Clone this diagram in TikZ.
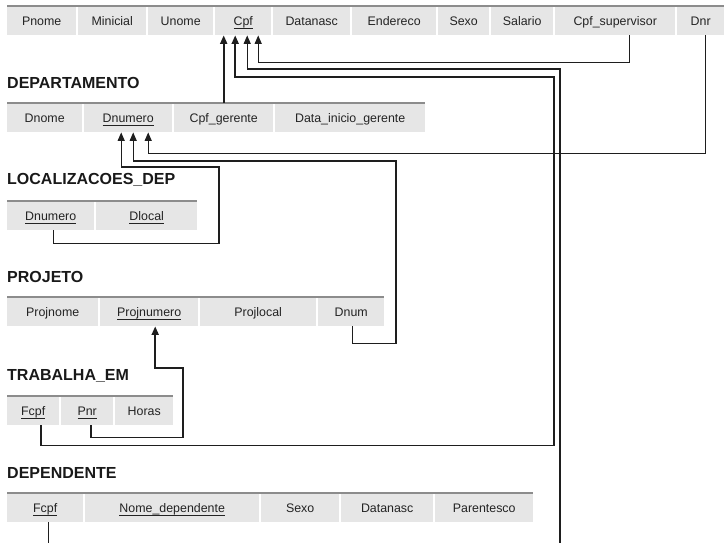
\documentclass[tikz,border=0pt]{standalone}
\usepackage{fontspec}
\setmainfont{Liberation Sans}
\usetikzlibrary{arrows.meta}
\definecolor{celula}{RGB}{230,230,230}
\definecolor{cinzatopo}{RGB}{140,140,140}
\definecolor{linha}{RGB}{30,30,30}
\definecolor{texto}{RGB}{35,35,35}
\newcommand{\chave}[1]{\sbox0{#1}\rlap{\rule[-3.2pt]{\wd0}{0.7pt}}\usebox0}

\begin{document}
\begin{tikzpicture}[x=1pt, y=-1pt,
	cel/.style={fill=celula, text=texto, inner sep=0pt, minimum height=29pt,
		text height=9pt, text depth=0pt, anchor=north west,
		font=\fontsize{12.4}{14}\selectfont},
	titulo/.style={inner sep=0pt, anchor=base west, text=black!90,
		font=\fontsize{16}{18}\selectfont\bfseries},
	linhatopo/.style={draw=cinzatopo, line width=1.5pt},
	fk/.style={draw=linha, line width=1.2pt, -{Triangle[length=8.5pt,width=7pt]}},
	grosso/.style={line width=1.8pt}]

		\useasboundingbox (0,0) rectangle (724,543);
		\clip (0,0) rectangle (724,543);

		\newcommand{\mkcel}[5]{
			\node[cel, minimum width={#3pt-#2pt}] (#1) at (#2,#4) {#5};
		}

		%tabelas
		\mkcel{func-pnome}{7}{76}{6}{Pnome}
		\mkcel{func-minicial}{78}{146}{6}{Minicial}
		\mkcel{func-unome}{148}{213}{6}{Unome}
		\mkcel{func-cpf}{215}{271}{6}{\chave{Cpf}}
		\mkcel{func-datanasc}{273}{350}{6}{Datanasc}
		\mkcel{func-endereco}{352}{436}{6}{Endereco}
		\mkcel{func-sexo}{438}{489}{6}{Sexo}
		\mkcel{func-salario}{491}{553}{6}{Salario}
		\mkcel{func-cpfsup}{555}{675}{6}{Cpf\_supervisor}
		\mkcel{func-dnr}{677}{724}{6}{Dnr}

		\node[titulo] (t-depto) at (7,89) {DEPARTAMENTO};
		\mkcel{depto-dnome}{7}{82}{103}{Dnome}
		\mkcel{depto-dnum}{84}{172}{103}{\chave{Dnumero}}
		\mkcel{depto-cpfg}{174}{273}{103}{Cpf\_gerente}
		\mkcel{depto-data}{275}{425}{103}{Data\_inicio\_gerente}

		\node[titulo] (t-loc) at (7,185) {LOCALIZACOES\_DEP};
		\mkcel{loc-dnum}{7}{94}{201}{\chave{Dnumero}}
		\mkcel{loc-dlocal}{96}{197}{201}{\chave{Dlocal}}

		\node[titulo] (t-proj) at (7,282) {PROJETO};
		\mkcel{proj-pnome}{7}{98}{297}{Projnome}
		\mkcel{proj-pnum}{100}{198}{297}{\chave{Projnumero}}
		\mkcel{proj-plocal}{200}{316}{297}{Projlocal}
		\mkcel{proj-dnum}{318}{384}{297}{Dnum}

		\node[titulo] (t-trab) at (7,380) {TRABALHA\_EM};
		\mkcel{trab-fcpf}{7}{59}{396}{\chave{Fcpf}}
		\mkcel{trab-pnr}{61}{113}{396}{\chave{Pnr}}
		\mkcel{trab-horas}{115}{173}{396}{Horas}

		\node[titulo] (t-dpd) at (7,478) {DEPENDENTE};
		\mkcel{dpd-fcpf}{7}{83}{493}{\chave{Fcpf}}
		\mkcel{dpd-nome}{85}{259}{493}{\chave{Nome\_dependente}}
		\mkcel{dpd-sexo}{261}{339}{493}{Sexo}
		\mkcel{dpd-datanasc}{341}{433}{493}{Datanasc}
		\mkcel{dpd-parentesco}{435}{533}{493}{Parentesco}

		\foreach \a/\b in {func-pnome/func-dnr, depto-dnome/depto-data, loc-dnum/loc-dlocal,
			proj-pnome/proj-dnum, trab-fcpf/trab-horas, dpd-fcpf/dpd-parentesco}
			\draw[linhatopo] (\a.north west) -- (\b.north east);

		%chaves estrangeiras
		\draw[fk, grosso] (depto-cpfg.north) -- (depto-cpfg.north |- func-cpf.south);
		\draw[fk, grosso] ([xshift=8pt]trab-fcpf.south) -- ++(0,20) -| (554,77) -| ([xshift=-8pt]func-cpf.south);
		\draw[fk] ([xshift=3pt]dpd-fcpf.south) -- ++(0,40) -| (560,69) -| ([xshift=4pt]func-cpf.south);
		\draw[fk] ([xshift=14pt]func-cpfsup.south) -- ++(0,27) -| ([xshift=15pt]func-cpf.south);
		\draw[fk] ([xshift=4.5pt]func-dnr.south) -- ++(0,118) -| ([xshift=20pt]depto-dnum.south);
		\draw[fk] ([xshift=1pt]proj-dnum.south) -- ++(0,17) -| (396,161) -| ([xshift=5pt]depto-dnum.south);
		\draw[fk] ([xshift=2.5pt]loc-dnum.south) -- ++(0,13) -| (219,167) -| ([xshift=-7pt]depto-dnum.south);
		\draw[fk, grosso] ([xshift=4pt]trab-pnr.south) -- ++(0,12) -| (183,368) -| ([xshift=6pt]proj-pnum.south);

\end{tikzpicture}
\end{document}
